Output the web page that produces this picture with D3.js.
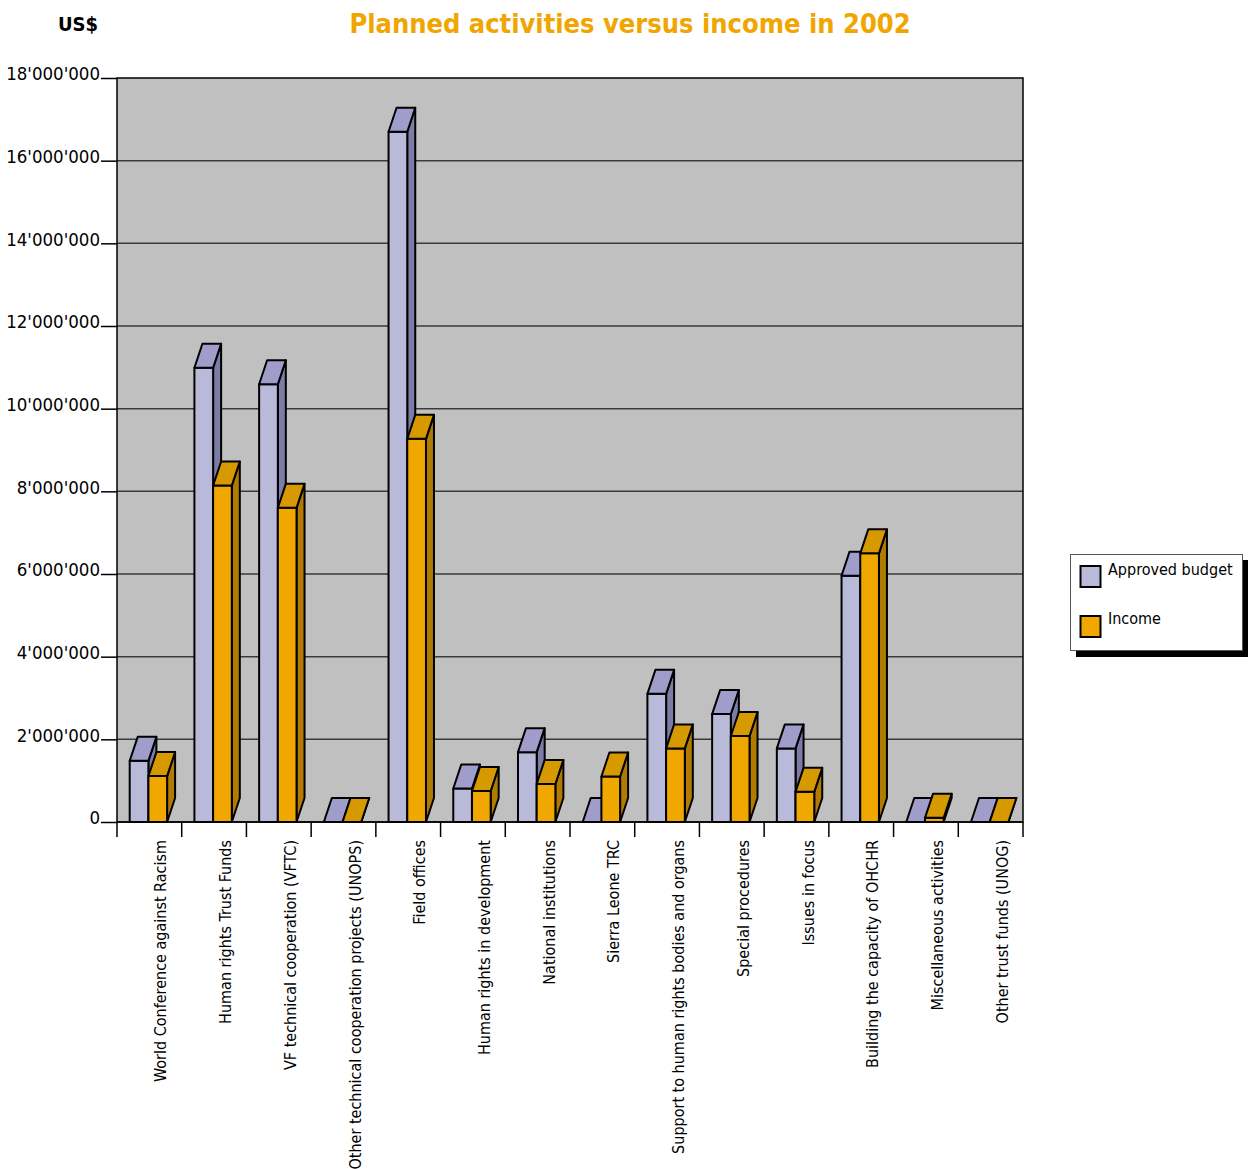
<!DOCTYPE html>
<html>
<head>
<meta charset="utf-8">
<script src="https://cdn.jsdelivr.net/npm/d3@7"></script>
<style>
  html, body { margin: 0; padding: 0; background: #ffffff; }
  svg { display: block; }
  text { font-family: 'DejaVu Sans Condensed', 'DejaVu Sans', sans-serif; font-stretch: condensed; }
</style>
</head>
<body>
<svg id="chart" width="1249" height="1169"></svg>
<script>
// Programme lines
const categories = [
  "World Conference against Racism",
  "Human rights Trust Funds",
  "VF technical cooperation (VFTC)",
  "Other technical cooperation projects (UNOPS)",
  "Field offices",
  "Human rights in development",
  "National institutions",
  "Sierra Leone TRC",
  "Support to human rights bodies and organs",
  "Special procedures",
  "Issues in focus",
  "Building the capacity of OHCHR",
  "Miscellaneous activities",
  "Other trust funds (UNOG)"
];

// US$ per programme line, 2002
const approvedBudget = [1480000, 10990000, 10590000, 0, 16700000, 810000, 1690000, 0, 3100000, 2610000, 1780000, 5960000, 0, 0];
const income         = [1110000, 8140000, 7600000, 0, 9270000, 750000, 920000, 1100000, 1780000, 2080000, 730000, 6500000, 100000, 0];

const seriesNames = ["Approved budget", "Income"];
const yTicks = [0, 2000000, 4000000, 6000000, 8000000, 10000000, 12000000, 14000000, 16000000, 18000000];
const yTickLabels = ["0", "2'000'000", "4'000'000", "6'000'000", "8'000'000", "10'000'000", "12'000'000", "14'000'000", "16'000'000", "18'000'000"];

const svg = d3.select("#chart");
const plot = { left: 117, right: 1023, top: 78, bottom: 822 };

// colour sets for each series: front, top, side
const palette = [
  { front: "#b9b9d9", top: "#a09dcb", side: "#7c7ca6" },
  { front: "#f0a800", top: "#d69a00", side: "#b07b00" }
];

const x = d3.scaleBand().domain(categories).range([plot.left, plot.right]).paddingInner(0).paddingOuter(0);
const xInner = d3.scaleBand().domain(seriesNames).range([12.7, 12.7 + 37.4]).padding(0);
const y = d3.scaleLinear().domain([0, 18000000]).range([plot.bottom, plot.top]);

const depthX = 8, depthY = 24;

// title and unit
svg.append("text")
  .attr("x", 630).attr("y", 33)
  .attr("text-anchor", "middle")
  .attr("fill", "#f0a500")
  .style("font-weight", "bold")
  .style("font-size", "27px")
  .text("Planned activities versus income in 2002");

svg.append("text")
  .attr("x", 98).attr("y", 31)
  .attr("text-anchor", "end")
  .attr("fill", "#000")
  .style("font-weight", "bold")
  .style("font-size", "20px")
  .text("US$");

// plot background
svg.append("rect")
  .attr("x", plot.left).attr("y", plot.top)
  .attr("width", plot.right - plot.left).attr("height", plot.bottom - plot.top)
  .attr("fill", "#c0c0c0");

// horizontal gridlines
svg.append("g").selectAll("line")
  .data(yTicks.filter(d => d > 0 && d < 18000000))
  .join("line")
  .attr("x1", plot.left).attr("x2", plot.right)
  .attr("y1", d => y(d)).attr("y2", d => y(d))
  .attr("stroke", "#3a3a3a").attr("stroke-width", 1.5);

// plot frame
svg.append("rect")
  .attr("x", plot.left).attr("y", plot.top)
  .attr("width", plot.right - plot.left).attr("height", plot.bottom - plot.top)
  .attr("fill", "none").attr("stroke", "#000").attr("stroke-width", 1.5);

// y axis with outward ticks
const yAxis = d3.axisLeft(y)
  .tickValues(yTicks)
  .tickSize(16)
  .tickPadding(1)
  .tickFormat((d, i) => yTickLabels[i]);
const gy = svg.append("g").attr("transform", `translate(${plot.left},0)`).call(yAxis);
gy.select(".domain").remove();
gy.selectAll(".tick line").attr("stroke", "#000").attr("stroke-width", 1.5);
gy.selectAll(".tick text")
  .attr("fill", "#000")
  .attr("dy", "0.1em")
  .style("font-size", "18.5px");

// x axis: ticks at category boundaries
const boundaries = categories.map(c => x(c)).concat([plot.right]);
svg.append("g").selectAll("line")
  .data(boundaries)
  .join("line")
  .attr("x1", d => d).attr("x2", d => d)
  .attr("y1", plot.bottom).attr("y2", plot.bottom + 15)
  .attr("stroke", "#000").attr("stroke-width", 1.5);

// category labels, rotated
svg.append("g").selectAll("text")
  .data(categories)
  .join("text")
  .attr("transform", d => `translate(${x(d) + x.bandwidth() / 2 + 17},${plot.bottom + 18}) rotate(-90)`)
  .attr("text-anchor", "end")
  .attr("fill", "#000")
  .style("font-size", "16px")
  .text(d => d);

// 3D columns
const bars = [];
categories.forEach((c, i) => {
  [approvedBudget[i], income[i]].forEach((v, s) => {
    bars.push({ cat: c, series: s, value: v });
  });
});

const gBars = svg.append("g");
bars.forEach(b => {
  const x0 = x(b.cat) + xInner(seriesNames[b.series]);
  const w = xInner.bandwidth();
  const y0 = y(0), y1 = y(b.value);
  const col = palette[b.series];
  const g = gBars.append("g")
    .attr("stroke", "#000").attr("stroke-width", 2).attr("stroke-linejoin", "round");
  // side face
  g.append("polygon")
    .attr("points", [[x0 + w, y0], [x0 + w + depthX, y0 - depthY], [x0 + w + depthX, y1 - depthY], [x0 + w, y1]].join(" "))
    .attr("fill", col.side);
  // front face
  if (y0 - y1 > 0) {
    g.append("rect")
      .attr("x", x0).attr("y", y1)
      .attr("width", w).attr("height", y0 - y1)
      .attr("fill", col.front);
  }
  // top face
  g.append("polygon")
    .attr("points", [[x0, y1], [x0 + depthX, y1 - depthY], [x0 + w + depthX, y1 - depthY], [x0 + w, y1]].join(" "))
    .attr("fill", col.top);
});

// bottom axis line on top of bars
svg.append("line")
  .attr("x1", plot.left).attr("x2", plot.right)
  .attr("y1", plot.bottom).attr("y2", plot.bottom)
  .attr("stroke", "#000").attr("stroke-width", 1.5);

// legend with drop shadow
const legend = svg.append("g");
legend.append("rect")
  .attr("x", 1076).attr("y", 560).attr("width", 172).attr("height", 97)
  .attr("fill", "#000");
legend.append("rect")
  .attr("x", 1070.5).attr("y", 554.5).attr("width", 172).attr("height", 96)
  .attr("fill", "#fff").attr("stroke", "#555").attr("stroke-width", 1);
seriesNames.forEach((name, i) => {
  legend.append("rect")
    .attr("x", 1080.5).attr("y", 566 + i * 50).attr("width", 20).attr("height", 21)
    .attr("fill", palette[i].front).attr("stroke", "#000").attr("stroke-width", 2);
  legend.append("text")
    .attr("x", 1108).attr("y", 575 + i * 49)
    .attr("fill", "#000")
    .style("font-size", "16px")
    .text(name);
});
</script>
</body>
</html>
